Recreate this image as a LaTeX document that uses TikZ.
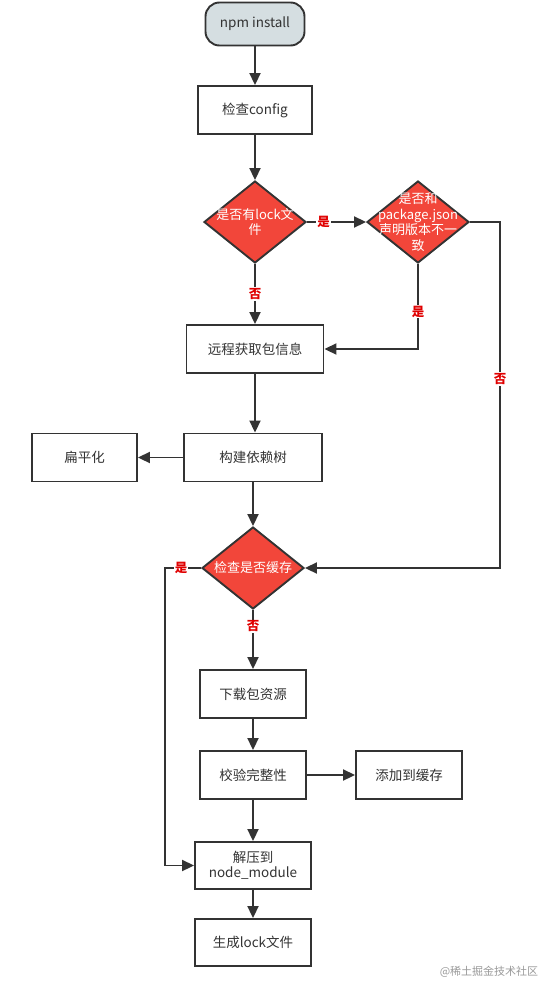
\documentclass[tikz,border=0pt]{standalone}
\usepackage{fontspec}
\setmainfont{Noto Sans CJK SC}
\usetikzlibrary{shapes.geometric,arrows.meta}
\definecolor{ln}{HTML}{333333}
\definecolor{dred}{HTML}{F2463A}
\definecolor{startfill}{HTML}{D5DEE1}
\definecolor{lbl}{HTML}{E00000}
\begin{document}
\begin{tikzpicture}[x=1pt,y=-1pt,
  box/.style={draw=ln, line width=1.9pt, fill=white, minimum height=48pt,
    font=\fontsize{13.5}{15.5}\selectfont, text=ln, align=center, inner sep=0pt},
  startbox/.style={box, fill=startfill, rounded corners=14pt, minimum height=43pt, minimum width=99pt},
  dia/.style={draw=ln, line width=1.9pt, fill=dred, shape=diamond, minimum width=102pt, minimum height=82pt, inner sep=0pt},
  diatext/.style={text=white, font=\fontsize{13}{15.5}\selectfont, align=center, inner sep=0pt},
  arr/.style={draw=ln, line width=1.9pt, -{Triangle[length=12pt,width=11pt]}},
  lab/.style={fill=white, text=lbl, font=\fontsize{12.5}{13}\selectfont\bfseries, inner sep=1pt}
]
\useasboundingbox (0,0) rectangle (544,985);

\node[startbox] (start) at (255,24) {npm install};
\node[box, minimum width=114pt] (cfg) at (255,110) {检查config};
\node[dia] (d1) at (255,222) {};
\node[diatext] (d1t) at (d1) {是否有lock文\\件};
\node[dia] (d2) at (418,222) {};
\node[diatext] (d2t) at (d2) {是否和\\package.json\\声明版本不一\\致};
\node[box, minimum width=137pt] (remote) at (255,349) {远程获取包信息};
\node[box, minimum width=138pt] (build) at (253,457.5) {构建依赖树};
\node[box, minimum width=105pt] (flat) at (84.5,457.5) {扁平化};
\node[dia] (d3) at (253,568) {};
\node[diatext] (d3t) at (d3) {检查是否缓存};
\node[box, minimum width=106pt] (dl) at (253,694) {下载包资源};
\node[box, minimum width=106pt] (chk) at (253,775) {校验完整性};
\node[box, minimum width=106pt] (cache) at (409,775) {添加到缓存};
\node[box, minimum width=116pt, minimum height=47pt] (unzip) at (253,865.5) {解压到\\node\_module};
\node[box, minimum width=116pt, minimum height=47pt] (gen) at (253,942.5) {生成lock文件};

\coordinate (r) at (500,379);
\coordinate (l) at (165,568);

\draw[arr] (start) -- (cfg);
\draw[arr] (cfg) -- (d1);
\draw[arr] (d1) -- node[lab, pos=0.28] {是} (d2);
\draw[arr] (d1) -- node[lab] {否} (remote);
\draw[arr] (d2.south) |- node[lab, pos=0.28] {是} (remote.east);
\draw[arr] (d2.east) -| (r) |- (d3.east);
\node[lab] (rl) at (r) {否};
\draw[arr] (remote.south) -- (remote.south |- build.north);
\draw[arr] (build) -- (flat);
\draw[arr] (build.south -| d3.north) -- (d3);
\draw[arr] (d3.south -| dl.north) -- node[lab, pos=0.28] {否} (dl);
\draw[arr] (d3.west) -- node[lab, pos=0.55] {是} (l) |- (unzip.west);
\draw[arr] (dl) -- (chk);
\draw[arr] (chk) -- (cache);
\draw[arr] (chk) -- (unzip);
\draw[arr] (unzip) -- (gen);

\node[text=black!40, font=\fontsize{11}{12}\selectfont, inner sep=0pt] (wm) at (489,972) {@稀土掘金技术社区};
\end{tikzpicture}
\end{document}
